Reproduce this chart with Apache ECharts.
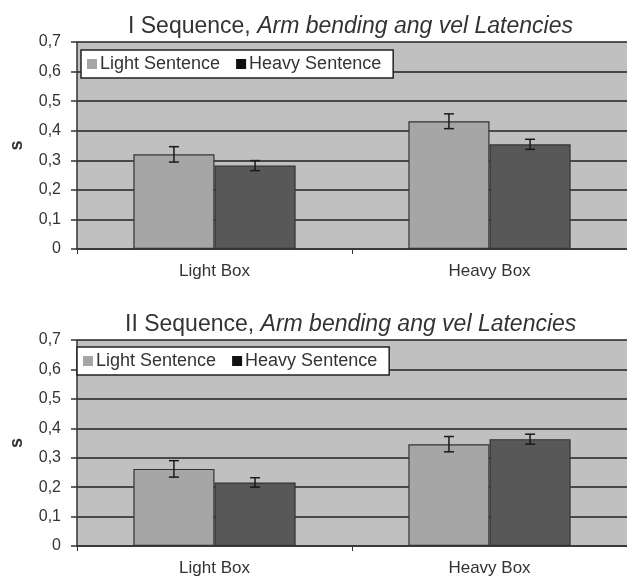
<!DOCTYPE html>
<html>
<head>
<meta charset="utf-8">
<script src="https://cdn.jsdelivr.net/npm/echarts@6/dist/echarts.min.js"></script>
<style>html,body{margin:0;padding:0;background:#fff}#c{width:627px;height:577px}</style>
</head>
<body>
<div id="c"></div>
<script>
var categories = ['Light Box', 'Heavy Box'];
var seriesNames = ['Light Sentence', 'Heavy Sentence'];
var yTicks = [0, 0.1, 0.2, 0.3, 0.4, 0.5, 0.6, 0.7];
// Sequence I
var seq1Light = [0.320, 0.432];
var seq1LightErr = [0.026, 0.025];
var seq1Heavy = [0.282, 0.354];
var seq1HeavyErr = [0.017, 0.017];
// Sequence II
var seq2Light = [0.262, 0.346];
var seq2LightErr = [0.028, 0.026];
var seq2Heavy = [0.216, 0.363];
var seq2HeavyErr = [0.016, 0.017];
var titles = ['I Sequence, ', 'II Sequence, '];
var titleItalic = 'Arm bending ang vel Latencies';

var FONT = '"Liberation Sans", Arial, sans-serif';
var LIGHT = '#a6a6a6', DARK = '#585858';
var CAT_GAP = 0.41;

function errSeries(name, vals, errs, gi, side) {
  var data = vals.map(function (v, i) { return [i, v, errs[i]]; });
  return {
    type: 'custom', name: name + ' err', xAxisIndex: gi, yAxisIndex: gi, z: 5,
    data: data, silent: true,
    renderItem: function (params, api) {
      var i = api.value(0), v = api.value(1), e = api.value(2);
      var band = api.size([1, 0])[0];
      var bw = band * (1 - CAT_GAP) / 2;
      var c = api.coord([i, v]);
      var x = c[0] + side * bw / 2;
      var yt = api.coord([i, v + e])[1];
      var yb = api.coord([i, v - e])[1];
      var cap = 5;
      var st = { stroke: '#1a1a1a', lineWidth: 1.5 };
      return { type: 'group', children: [
        { type: 'line', shape: { x1: x, y1: yt, x2: x, y2: yb }, style: st },
        { type: 'line', shape: { x1: x - cap, y1: yt, x2: x + cap, y2: yt }, style: st },
        { type: 'line', shape: { x1: x - cap, y1: yb, x2: x + cap, y2: yb }, style: st }
      ]};
    }
  };
}

var grids = [
  { left: 71, top: 42, width: 560, height: 207 },
  { left: 70, top: 340, width: 560, height: 208 }
];

var option = {
  animation: false,
  backgroundColor: '#ffffff',
  title: [0, 1].map(function (k) {
    return {
      text: '{n|' + titles[k] + '}{i|' + titleItalic + '}',
      left: k === 0 ? 123 : 120, top: k === 0 ? 10 : 308,
      textStyle: { fontWeight: 'normal', rich: {
        n: { fontFamily: FONT, fontSize: 23, fontWeight: 'normal', color: '#333' },
        i: { fontFamily: FONT, fontSize: 23, fontWeight: 'normal', fontStyle: 'italic', color: '#333' }
      }}
    };
  }),
  legend: [0, 1].map(function (k) {
    return {
      data: [
        { name: seriesNames[0], itemStyle: { color: LIGHT, borderWidth: 0 } },
        { name: seriesNames[1], itemStyle: { color: '#111', borderWidth: 0 } }
      ],
      left: k === 0 ? 81 : 77, top: k === 0 ? 50 : 347,
      orient: 'horizontal',
      backgroundColor: '#ffffff', borderColor: '#222', borderWidth: 1.5,
      padding: [5, 12, 5, 6],
      itemWidth: 10, itemHeight: 10, itemGap: 16,
      icon: 'rect',
      textStyle: { fontFamily: FONT, fontSize: 18, color: '#333', padding: [0, 0, 0, -2] },
      selectedMode: false
    };
  }),
  grid: grids.map(function (g) {
    return Object.assign({ show: true, backgroundColor: '#c0c0c0', borderWidth: 0, containLabel: false }, g);
  }),
  xAxis: [0, 1].map(function (k) {
    return {
      type: 'category', gridIndex: k, data: categories,
      axisLine: { lineStyle: { color: '#333', width: 1.5 } },
      axisTick: { show: true, length: 5, lineStyle: { color: '#333' } },
      axisLabel: { fontFamily: FONT, fontSize: 17, color: '#333', margin: 14 },
      splitLine: { show: false }
    };
  }),
  yAxis: [0, 1].map(function (k) {
    return {
      type: 'value', gridIndex: k, min: 0, max: 0.7, interval: 0.1,
      name: 's', nameLocation: 'middle', nameGap: 51, nameRotate: 90,
      nameTextStyle: { fontFamily: FONT, fontSize: 18, fontWeight: 'bold', color: '#333' },
      axisLine: { show: true, lineStyle: { color: '#333', width: 1.5 } },
      axisTick: { show: true, length: 6, lineStyle: { color: '#333', width: 1.5 } },
      axisLabel: {
        fontFamily: FONT, fontSize: 16, color: '#333', margin: 16,
        formatter: function (v) {
          var t = yTicks.filter(function (x) { return Math.abs(x - v) < 1e-6; })[0];
          return t === 0 ? '0' : t.toFixed(1).replace('.', ',');
        }
      },
      splitLine: { show: true, lineStyle: { color: '#222', width: 1.6 } }
    };
  }),
  series: [
    { type: 'bar', name: seriesNames[0], xAxisIndex: 0, yAxisIndex: 0, data: seq1Light,
      barGap: '0%', barCategoryGap: (CAT_GAP * 100) + '%',
      itemStyle: { color: LIGHT, borderColor: '#333', borderWidth: 1.2 } },
    { type: 'bar', name: seriesNames[1], xAxisIndex: 0, yAxisIndex: 0, data: seq1Heavy,
      barGap: '0%', barCategoryGap: (CAT_GAP * 100) + '%',
      itemStyle: { color: DARK, borderColor: '#333', borderWidth: 1.2 } },
    { type: 'bar', name: seriesNames[0], xAxisIndex: 1, yAxisIndex: 1, data: seq2Light,
      barGap: '0%', barCategoryGap: (CAT_GAP * 100) + '%',
      itemStyle: { color: LIGHT, borderColor: '#333', borderWidth: 1.2 } },
    { type: 'bar', name: seriesNames[1], xAxisIndex: 1, yAxisIndex: 1, data: seq2Heavy,
      barGap: '0%', barCategoryGap: (CAT_GAP * 100) + '%',
      itemStyle: { color: DARK, borderColor: '#333', borderWidth: 1.2 } },
    errSeries('s1l', seq1Light, seq1LightErr, 0, -1),
    errSeries('s1h', seq1Heavy, seq1HeavyErr, 0, 1),
    errSeries('s2l', seq2Light, seq2LightErr, 1, -1),
    errSeries('s2h', seq2Heavy, seq2HeavyErr, 1, 1)
  ]
};
var chart = echarts.init(document.getElementById('c'), null, { renderer: 'canvas' });
chart.setOption(option);
</script>
</body>
</html>
